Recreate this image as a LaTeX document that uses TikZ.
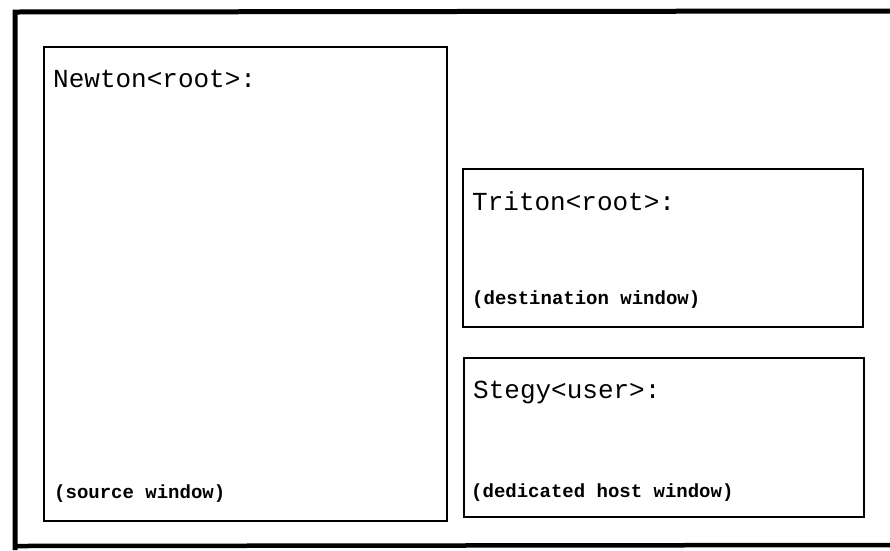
\documentclass[tikz,border=0pt]{standalone}
\usepackage{fontspec}
\setmonofont{Liberation Mono}
\begin{document}
\begin{tikzpicture}[x=1pt,y=-1pt,
  win/.style={draw,line width=2.2pt,inner sep=0pt},
  title/.style={anchor=base west,inner sep=0pt,font=\ttfamily\fontsize{26}{26}\selectfont},
  tag/.style={anchor=base west,inner sep=0pt,font=\ttfamily\bfseries\fontsize{19}{19}\selectfont}]
\useasboundingbox (0,0) rectangle (890,550);
% outer frame
\coordinate (ftl) at (15,12);
\coordinate (ftr) at (890,11);
\coordinate (fbl) at (15,550);
\coordinate (fbr) at (890,545);
\coordinate (fbs) at (15,546);
\draw[line width=5pt] (ftr) -- (ftl) -- (fbl);
\draw[line width=4.5pt] (fbs) -- (fbr);
% windows
\draw[win] (44,47) rectangle (447,521);
\draw[win] (463,169) rectangle (863,327);
\draw[win] (464,358) rectangle (864,517);
% texts
\node[title] (newton) at (53,87) {Newton<root>:};
\node[tag] (src) at (54,498) {(source window)};
\node[title] (triton) at (472,210) {Triton<root>:};
\node[tag] (dst) at (472,304) {(destination window)};
\node[title] (stegy) at (473,398) {Stegy<user>:};
\node[tag] (ded) at (471,497) {(dedicated host window)};
\end{tikzpicture}
\end{document}
